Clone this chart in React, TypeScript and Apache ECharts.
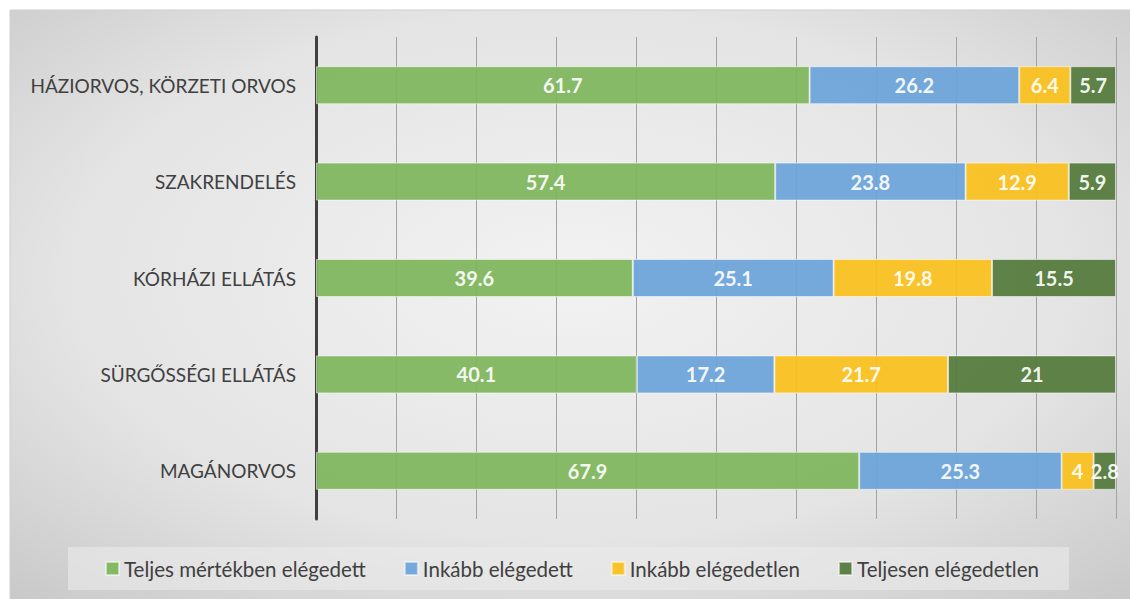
import React, { useEffect, useRef } from "react";
import * as echarts from "echarts";

const categories = [
  "HÁZIORVOS, KÖRZETI ORVOS",
  "SZAKRENDELÉS",
  "KÓRHÁZI ELLÁTÁS",
  "SÜRGŐSSÉGI ELLÁTÁS",
  "MAGÁNORVOS",
];
const seriesNames = [
  "Teljes mértékben elégedett",
  "Inkább elégedett",
  "Inkább elégedetlen",
  "Teljesen elégedetlen",
];
const teljesenElegedett = [61.7, 57.4, 39.6, 40.1, 67.9];
const inkabbElegedett = [26.2, 23.8, 25.1, 17.2, 25.3];
const inkabbElegedetlen = [6.4, 12.9, 19.8, 21.7, 4];
const teljesenElegedetlen = [5.7, 5.9, 15.5, 21, 2.8];
const colors = ["#7FB65C", "#6CA4D9", "#FAC11C", "#537A3A"];

const FONT = "Lato, 'Open Sans', sans-serif";

export default function App() {
  const ref = useRef<HTMLDivElement>(null);
  useEffect(() => {
    if (!ref.current) return;
    const chart = echarts.init(ref.current, undefined, { renderer: "svg" });
    const values = [teljesenElegedett, inkabbElegedett, inkabbElegedetlen, teljesenElegedetlen];
    chart.setOption({
      animation: false,
      textStyle: { fontFamily: FONT },
      graphic: [
        {
          type: "rect",
          z: -10,
          silent: true,
          shape: { x: 10, y: 10, width: 1122, height: 591 },
          style: {
            fill: new echarts.graphic.RadialGradient(0.5, 0.45, 0.75, [
              { offset: 0, color: "#f2f2f2" },
              { offset: 0.6, color: "#e4e4e4" },
              { offset: 1, color: "#c8c8c8" },
            ]),
            stroke: "#cfcfcf",
            lineWidth: 1,
          },
        },
        {
          type: "rect",
          z: -5,
          silent: true,
          shape: { x: 68, y: 547, width: 1001, height: 43 },
          style: { fill: "rgba(235,235,235,0.6)" },
        },
      ],
      grid: { left: 316, right: 14, top: 37, bottom: 80 },
      legend: {
        data: seriesNames,
        left: 100,
        top: 553,
        icon: "rect",
        itemWidth: 13,
        itemHeight: 13,
        itemGap: 38,
        textStyle: { fontSize: 20.5, color: "#404040", fontFamily: FONT },
      },
      xAxis: {
        type: "value",
        min: 0,
        max: 100,
        interval: 10,
        axisLabel: { show: false },
        axisLine: { show: false },
        axisTick: { show: false },
        splitLine: { show: true, lineStyle: { color: "#a3a3a3", width: 1 } },
      },
      yAxis: {
        type: "category",
        data: categories,
        inverse: true,
        axisLine: { show: true, lineStyle: { color: "#404040", width: 3 } },
        axisTick: { show: false },
        axisLabel: { fontSize: 19, color: "#404040", margin: 20, fontFamily: FONT },
      },
      series: seriesNames.map((name, i) => ({
        name,
        type: "bar",
        stack: "total",
        barWidth: 38,
        data: values[i],
        itemStyle: {
          color: colors[i],
          opacity: 0.93,
          borderColor: "rgba(255,255,255,0.55)",
          borderWidth: 1,
        },
        label: {
          show: true,
          position: "inside",
          color: "#ffffff",
          fontWeight: "bold",
          fontSize: 20,
          fontFamily: FONT,
        },
      })),
    });
    return () => chart.dispose();
  }, []);
  return (
    <div
      ref={ref}
      style={{ position: "absolute", left: 0, top: 0, width: 1130, height: 599 }}
    />
  );
}
